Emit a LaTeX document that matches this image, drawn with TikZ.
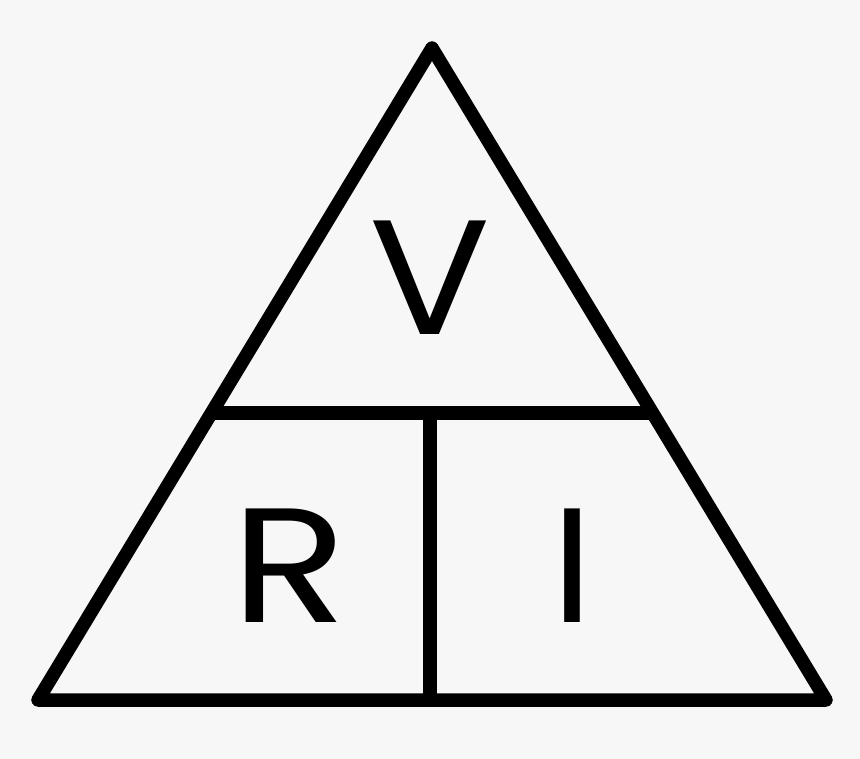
\documentclass[tikz,border=0pt]{standalone}
\usepackage{fontspec}
\usepackage{graphicx}
\setmainfont{Poppins}
\definecolor{bg}{HTML}{F7F7F7}
\begin{document}
\begin{tikzpicture}[x=1pt,y=-1pt,
  edge/.style={line width=13.5pt,line join=round,line cap=round,black},
  letter/.style={font=\fontsize{163}{163}\selectfont,inner sep=0pt,anchor=base}]
\fill[bg] (0,0) rectangle (860,759);
\useasboundingbox (0,0) rectangle (860,759);
\coordinate (top) at (432,48);
\coordinate (bl) at (38,700);
\coordinate (br) at (826,700);
\coordinate (ml) at (211,413);
\coordinate (mr) at (653,413);
\coordinate (mt) at (430,413);
\coordinate (mb) at (430,700);
\draw[edge] (top) -- (bl) -- (br) -- cycle;
\draw[edge,line cap=butt] (ml) -- (mr);
\draw[edge,line cap=butt] (mt) -- (mb);
\node[letter] (v) at (430,335) {\scalebox{1.1}[1]{V}};
\node[letter] (r) at (289,622) {\scalebox{1.17}[1]{R}};
\node[letter] (i) at (573,622) {\scalebox{1.05}[1]{I}};
\end{tikzpicture}
\end{document}
